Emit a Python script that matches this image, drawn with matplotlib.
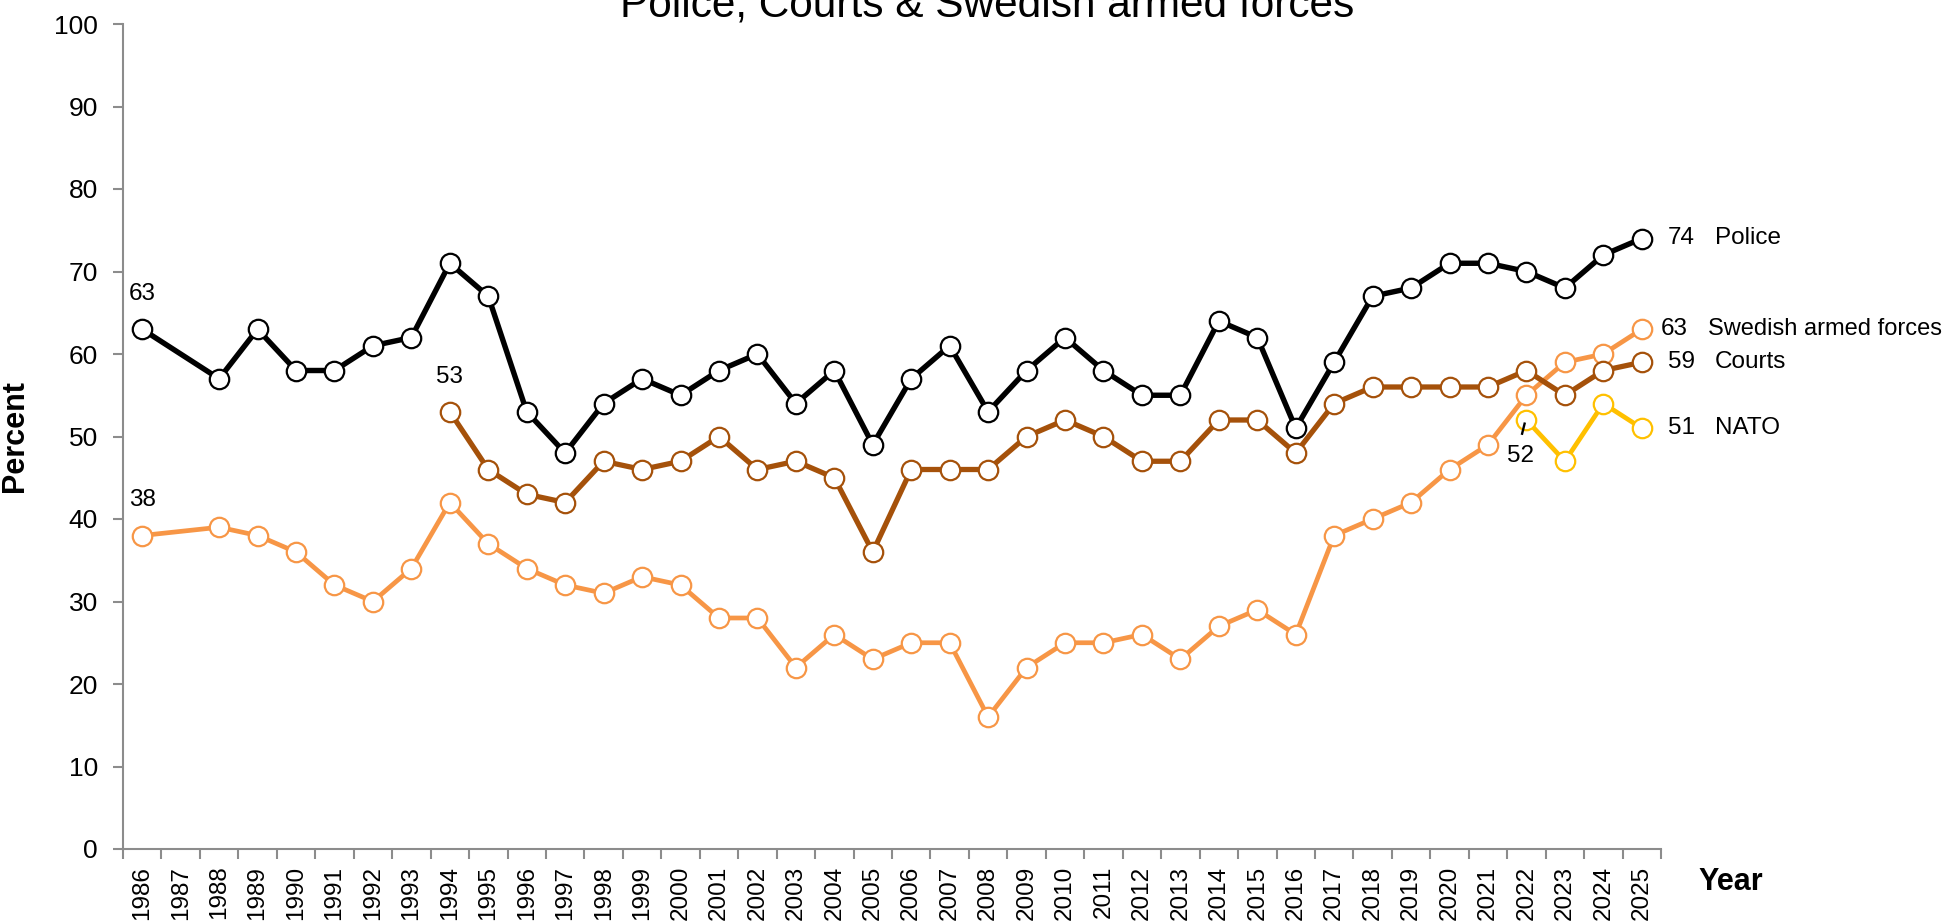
#!/usr/bin/env python3
"""Förtroende: Polis, domstolar, Försvarsmakten och NATO 1986-2025."""
import matplotlib
matplotlib.use("Agg")
import matplotlib.pyplot as plt
import numpy as np

plt.rcParams.update({
    "font.family": ["Liberation Sans", "DejaVu Sans"],
    "font.size": 17.5,
})

YEARS = list(range(1986, 2026))

police_years = [1986] + list(range(1988, 2026))
police = [63, 57, 63, 58, 58, 61, 62, 71, 67, 53, 48, 54, 57, 55, 58, 60, 54, 58,
          49, 57, 61, 53, 58, 62, 58, 55, 55, 64, 62, 51, 59, 67, 68, 71, 71, 70,
          68, 72, 74]

courts_years = list(range(1994, 2026))
courts = [53, 46, 43, 42, 47, 46, 47, 50, 46, 47, 45, 36, 46, 46, 46, 50, 52, 50,
          47, 47, 52, 52, 48, 54, 56, 56, 56, 56, 58, 55, 58, 59]

forces_years = [1986] + list(range(1988, 2026))
forces = [38, 39, 38, 36, 32, 30, 34, 42, 37, 34, 32, 31, 33, 32, 28, 28, 22, 26,
          23, 25, 25, 16, 22, 25, 25, 26, 23, 27, 29, 26, 38, 40, 42, 46, 49, 55,
          59, 60, 63]

nato_years = [2022, 2023, 2024, 2025]
nato = [52, 47, 54, 51]

C_POLICE = "#000000"
C_COURTS = "#A5510A"
C_FORCES = "#F79646"
C_NATO = "#FFC000"
SPINE = "#8C8C8C"
LBL = 17.5


def xpos(years):
    return [YEARS.index(y) for y in years]


fig = plt.figure(figsize=(19.5, 9.23), dpi=100)
ax = fig.add_axes([123 / 1950, 1 - 849 / 923, 1538 / 1950, 825 / 923])

series = [
    (forces_years, forces, C_FORCES, 3.4),
    (courts_years, courts, C_COURTS, 3.8),
    (nato_years, nato, C_NATO, 3.4),
    (police_years, police, C_POLICE, 3.9),
]
for yrs, vals, col, lw in series:
    ax.plot(xpos(yrs), vals, color=col, lw=lw, marker="o", ms=14,
            mfc="white", mec=col, mew=1.6, zorder=3, solid_joinstyle="round")

ax.set_xlim(-0.5, len(YEARS) - 0.5)
ax.set_ylim(0, 100)
ax.set_yticks(np.arange(0, 101, 10))
ax.set_xticks(range(len(YEARS)))
ax.set_xticklabels([str(y) for y in YEARS], rotation=90, fontsize=17.5)
ax.set_xticks(np.arange(-0.5, len(YEARS)), minor=True)
ax.tick_params(axis="x", which="major", length=0, pad=12)
ax.tick_params(axis="x", which="minor", length=7, width=1.5, color=SPINE)
ax.tick_params(axis="y", length=7, width=1.5, color=SPINE, pad=11, labelsize=19)
for s in ("top", "right"):
    ax.spines[s].set_visible(False)
for s in ("left", "bottom"):
    ax.spines[s].set_color(SPINE)
    ax.spines[s].set_linewidth(1.5)

ax.set_ylabel("Percent", fontsize=22, fontweight="bold")
ax.yaxis.set_label_coords(-0.0605, 0.5)
fig.text(1698 / 1950, 1 - 882 / 923, "Year", fontsize=22, fontweight="bold",
         ha="left", va="center")
fig.text(987 / 1950, 1 - 16 / 923, "Police, Courts & Swedish armed forces",
         fontsize=30.5, ha="center", va="baseline")

# etiketter vid första punkten
for yrs, vals in [(police_years, police), (forces_years, forces), (courts_years, courts)]:
    ax.annotate(str(vals[0]), (xpos(yrs)[0], vals[0]), xytext=(0, 35),
                textcoords="offset pixels", ha="center", va="center", fontsize=LBL)

# NATO 2022 med ledarlinje
x0 = xpos(nato_years)[0]
ax.annotate(str(nato[0]), (x0, nato[0]), xytext=(-6, -36),
            textcoords="offset pixels", ha="center", va="center", fontsize=LBL)
ax.plot([x0 - 0.12, x0 - 0.04], [nato[0] - 1.8, nato[0] - 0.3],
        color="black", lw=1.7, zorder=4, solid_capstyle="butt")

# etiketter vid slutet
ends = [
    (police[-1], "Police", 26, 73),
    (forces[-1], "Swedish armed forces", 19, 66),
    (courts[-1], "Courts", 26, 73),
    (nato[-1], "NATO", 26, 73),
]
xl = len(YEARS) - 1
for v, name, dnum, dname in ends:
    fs = 17 if len(name) > 10 else LBL
    ax.annotate(str(v), (xl, v), xytext=(dnum, 0), textcoords="offset pixels",
                ha="left", va="center", fontsize=LBL, annotation_clip=False)
    ax.annotate(name, (xl, v), xytext=(dname, 0), textcoords="offset pixels",
                ha="left", va="center", fontsize=fs, annotation_clip=False)

fig.savefig("out.png", dpi=100)
